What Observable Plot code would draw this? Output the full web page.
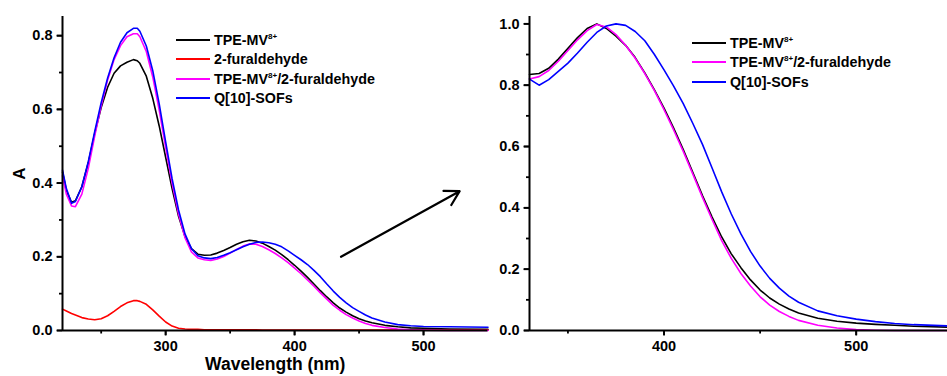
<!DOCTYPE html>
<html>
<head>
<meta charset="utf-8">
<script src="https://cdn.jsdelivr.net/npm/d3@7"></script>
<script src="https://cdn.jsdelivr.net/npm/@observablehq/plot@0.6"></script>
<style>
  html, body { margin: 0; padding: 0; background: #fff; overflow: hidden; }
  #wrap { position: relative; width: 947px; height: 376px; overflow: hidden; font-family: "Liberation Sans", Arial, sans-serif; }
  #wrap svg { position: absolute; top: 0; }
  .legend { position: absolute; font-weight: bold; font-size: 14.3px; color: #000; }
  .row { position: absolute; left: 0; height: 20px; display: flex; align-items: center; white-space: nowrap; }
  .sw { display: inline-block; width: 34px; height: 0; border-top: 2px solid; margin-right: 4px; }
  sup { font-size: 8px; vertical-align: 6px; line-height: 0; }
</style>
</head>
<body>
<div id="wrap"></div>
<script>
// ---------- data ----------
const leftWl = [220,223,227,230,235,240,245,250,255,260,265,270,275,278,280,285,290,295,300,305,310,315,320,325,330,335,340,345,350,355,360,365,370,375,380,385,390,395,400,405,410,415,420,425,430,435,440,445,450,455,460,470,480,490,500,520,550];
const leftTPE = [0.43,0.38,0.348,0.352,0.39,0.455,0.535,0.605,0.66,0.698,0.718,0.728,0.735,0.732,0.725,0.69,0.63,0.555,0.47,0.385,0.31,0.255,0.222,0.207,0.204,0.205,0.21,0.217,0.225,0.234,0.241,0.245,0.243,0.237,0.228,0.218,0.206,0.192,0.177,0.161,0.144,0.126,0.108,0.091,0.075,0.061,0.05,0.04,0.032,0.026,0.021,0.014,0.01,0.007,0.006,0.004,0.003];
const leftFur = [0.058,0.053,0.046,0.042,0.035,0.031,0.029,0.032,0.04,0.052,0.065,0.075,0.081,0.081,0.079,0.071,0.056,0.039,0.023,0.012,0.006,0.004,0.003,0.003,0.002,0.002,0.002,0.002,0.002,0.002,0.002,0.002,0.002,0.001,0.001,0.001,0.001,0.001,0.001,0.001,0.001,0.001,0.001,0.001,0.001,0.001,0.001,0.001,0.001,0.001,0.001,0.001,0.001,0.001,0.001,0.001,0.001];
const leftMix = [0.42,0.37,0.338,0.336,0.37,0.44,0.528,0.61,0.68,0.735,0.773,0.797,0.805,0.805,0.797,0.757,0.688,0.598,0.497,0.4,0.316,0.252,0.213,0.197,0.192,0.19,0.194,0.201,0.21,0.22,0.229,0.235,0.234,0.228,0.219,0.209,0.197,0.184,0.169,0.154,0.137,0.12,0.102,0.085,0.068,0.055,0.043,0.034,0.026,0.019,0.014,0.008,0.004,0.002,0.001,0,0];
const leftSOF = [0.435,0.385,0.345,0.35,0.39,0.458,0.54,0.618,0.685,0.74,0.782,0.808,0.82,0.82,0.812,0.772,0.705,0.615,0.512,0.412,0.327,0.262,0.222,0.203,0.197,0.195,0.198,0.204,0.211,0.219,0.227,0.234,0.239,0.24,0.238,0.234,0.227,0.216,0.204,0.192,0.179,0.163,0.146,0.126,0.107,0.09,0.075,0.062,0.052,0.042,0.034,0.023,0.016,0.013,0.011,0.01,0.009];

const rightWl = [330,335,340,345,350,355,360,365,370,375,380,385,390,395,400,405,410,415,420,425,430,435,440,445,450,455,460,465,470,480,490,500,510,520,530,547.5];
const rightTPE = [0.835,0.838,0.855,0.885,0.92,0.955,0.985,1.0,0.985,0.96,0.93,0.89,0.84,0.785,0.725,0.66,0.59,0.515,0.44,0.37,0.305,0.25,0.205,0.165,0.132,0.106,0.086,0.07,0.057,0.04,0.03,0.024,0.02,0.017,0.014,0.011];
const rightMix = [0.82,0.828,0.848,0.878,0.913,0.948,0.978,0.998,0.99,0.965,0.93,0.888,0.838,0.782,0.72,0.654,0.584,0.51,0.434,0.362,0.293,0.235,0.186,0.145,0.11,0.083,0.062,0.046,0.033,0.017,0.008,0.003,0.001,0,0,0];
const rightSOF = [0.82,0.80,0.818,0.845,0.872,0.905,0.94,0.972,0.993,1.0,0.995,0.975,0.945,0.9,0.85,0.797,0.74,0.675,0.607,0.53,0.452,0.38,0.315,0.258,0.21,0.17,0.138,0.112,0.092,0.064,0.048,0.037,0.029,0.023,0.019,0.015];

const leftNames = ["TPE-MV|8+", "2-furaldehyde", "TPE-MV|8+|/2-furaldehyde", "Q[10]-SOFs"];
const leftColors = ["#000000", "#ff0000", "#ff00ff", "#0000ff"];
const rightNames = ["TPE-MV|8+", "TPE-MV|8+|/2-furaldehyde", "Q[10]-SOFs"];
const rightColors = ["#000000", "#ff00ff", "#0000ff"];

const leftXMajor = [300, 400, 500], leftXMinor = [250, 350, 450];
const leftYMajor = [0, 0.2, 0.4, 0.6, 0.8], leftYMinor = [0.1, 0.3, 0.5, 0.7];
const rightXMajor = [400, 500], rightXMinor = [350, 450];
const rightYMajor = [0, 0.2, 0.4, 0.6, 0.8, 1.0], rightYMinor = [0.1, 0.3, 0.5, 0.7, 0.9];
const arrowData = [{x1: 436, y1: 0.2, x2: 528, y2: 0.378}];
const xTitle = "Wavelength (nm)", yTitle = "A";

// ---------- build ----------
const fmt = d3.format(".1f");
const FONT = "'Liberation Sans', Arial, sans-serif";
function toRows(xs, ys) { return xs.map((x, i) => ({x, y: ys[i]})); }

function panel(o) {
  const H = 376, MT = 16, MB = 46;
  const fh = H - MT - MB, fw = o.width - o.marginLeft - o.marginRight;
  // tick lengths converted from pixels into data units of each scale
  const yPerPx = (o.yDomain[1] - o.yDomain[0]) / fh;
  const xPerPx = (o.xDomain[1] - o.xDomain[0]) / fw;
  const y0 = o.yDomain[0], x0 = o.xDomain[0];
  const xt = (vals, len) => Plot.ruleX(vals, {x: d => d, y1: y0, y2: y0 - len * yPerPx, stroke: "#000", strokeWidth: 1.8});
  const yt = (vals, len) => Plot.ruleY(vals, {y: d => d, x1: x0, x2: x0 - len * xPerPx, stroke: "#000", strokeWidth: 1.8});
  return Plot.plot({
    width: o.width, height: H,
    marginLeft: o.marginLeft, marginRight: o.marginRight, marginTop: MT, marginBottom: MB,
    x: {domain: o.xDomain, label: null},
    y: {domain: o.yDomain, label: null},
    style: {fontFamily: FONT, fontWeight: "bold", fontSize: "14.5px", color: "#000", background: "transparent", overflow: "visible"},
    marks: [
      ...o.series.map(s => Plot.line(s.rows, {x: "x", y: "y", stroke: s.color, strokeWidth: 1.6})),
      Plot.axisX(o.xMajor, {tickSize: 5, tickPadding: 5, stroke: "#000", strokeWidth: 1.8, tickFormat: d => String(d), label: null, fontSize: 14.5, fontWeight: "bold", fontFamily: FONT, fill: "#000"}),
      Plot.axisY(o.yMajor, {tickSize: 5, tickPadding: 5, stroke: "#000", strokeWidth: 1.8, tickFormat: fmt, label: null, fontSize: 14.5, fontWeight: "bold", fontFamily: FONT, fill: "#000"}),
      xt(o.xMajor, 5.5), xt(o.xMinor, 3.5),
      yt(o.yMajor, 5.5), yt(o.yMinor, 3),
      Plot.ruleY([y0], {stroke: "#000", strokeWidth: 2}),
      Plot.ruleX([x0], {stroke: "#000", strokeWidth: 2}),
      ...(o.extra || [])
    ]
  });
}

const wrap = document.getElementById("wrap");

const left = panel({
  width: 490, marginLeft: 62, marginRight: 2.5,
  xDomain: [220, 550], yDomain: [0, 0.852],
  xMajor: leftXMajor, xMinor: leftXMinor, yMajor: leftYMajor, yMinor: leftYMinor,
  series: [leftTPE, leftFur, leftMix, leftSOF].map((v, i) => ({rows: toRows(leftWl, v), color: leftColors[i]})),
  extra: [
    Plot.arrow(arrowData, {x1: "x1", y1: "y1", x2: "x2", y2: "y2", stroke: "#000", strokeWidth: 2.2, headLength: 11}),
    Plot.text([xTitle], {text: d => d, frameAnchor: "bottom", lineAnchor: "middle", textAnchor: "middle", dy: 34, fontSize: 17.5, fontWeight: "bold", fontFamily: FONT, fill: "#000"}),
    Plot.text([yTitle], {text: d => d, frameAnchor: "left", lineAnchor: "middle", textAnchor: "middle", dx: -43, rotate: -90, fontSize: 17, fontWeight: "bold", fontFamily: FONT, fill: "#000"})
  ]
});
left.style.left = "0px";
wrap.appendChild(left);

const right = panel({
  width: 457, marginLeft: 39, marginRight: 0,
  xDomain: [330, 547.5], yDomain: [0, 1.024],
  xMajor: rightXMajor, xMinor: rightXMinor, yMajor: rightYMajor, yMinor: rightYMinor,
  series: [rightTPE, rightMix, rightSOF].map((v, i) => ({rows: toRows(rightWl, v), color: rightColors[i]}))
});
right.style.left = "490px";
wrap.appendChild(right);

function legend(names, colors, x, y0, step) {
  const div = document.createElement("div");
  div.className = "legend";
  div.style.left = x + "px";
  div.style.top = "0px";
  names.forEach((n, i) => {
    const row = document.createElement("div");
    row.className = "row";
    row.style.top = (y0 + i * step - 10) + "px";
    const sw = document.createElement("span");
    sw.className = "sw";
    sw.style.borderTopColor = colors[i];
    row.appendChild(sw);
    const t = document.createElement("span");
    const parts = n.split("|");
    t.appendChild(document.createTextNode(parts[0]));
    if (parts.length > 1) {
      const s = document.createElement("sup");
      s.textContent = parts[1];
      t.appendChild(s);
      if (parts[2]) t.appendChild(document.createTextNode(parts[2]));
    }
    row.appendChild(t);
    div.appendChild(row);
  });
  wrap.appendChild(div);
}
legend(leftNames, leftColors, 176, 39.5, 19.6);
legend(rightNames, rightColors, 692, 42.7, 19.7);
</script>
</body>
</html>
